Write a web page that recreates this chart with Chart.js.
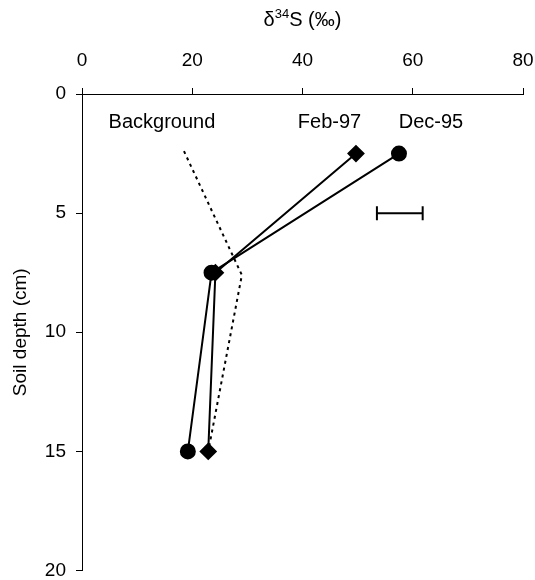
<!DOCTYPE html>
<html>
<head>
<meta charset="utf-8">
<script src="https://cdn.jsdelivr.net/npm/chart.js@4/dist/chart.umd.min.js"></script>
<style>
  html, body { margin: 0; padding: 0; background: #fff; }
  #wrap { width: 535px; height: 580px; position: relative; }
</style>
</head>
<body>
<div id="wrap"><canvas id="chart"></canvas></div>
<script>
// depth profile of d34S
const depths = [2.5, 7.5, 15];
const dec95 = [57.5, 23.5, 19.2];
const feb97 = [49.7, 24.2, 22.9];

const bgDepths = [2.4, 7.6, 15];
const bgValues = [18.5, 29, 22.9];

// analytical error bar drawn at 5 cm
const errDepth = 5;
const errLow = 53.5;
const errHigh = 61.8;

// series labels placed inside the plot
const labelText = ['Background', 'Feb-97', 'Dec-95'];
const labelX = [14.5, 44.9, 63.3];
const labelY = [1.2, 1.2, 1.2];

const xTicks = [0, 20, 40, 60, 80];
const yTicks = [0, 5, 10, 15, 20];

const FONT = "'Liberation Sans', Arial, sans-serif";
Chart.defaults.font.family = FONT;
Chart.defaults.font.size = 19;
Chart.defaults.color = '#000';

const pts = (xs, ys) => xs.map((x, i) => ({ x, y: ys[i] }));

// series labels + the superscripted axis title
const textPlugin = {
  id: 'texts',
  afterDraw(chart) {
    const { ctx, scales: { x, y }, chartArea } = chart;
    ctx.save();
    ctx.fillStyle = '#000';
    ctx.font = '20px ' + FONT;
    ctx.textAlign = 'center';
    ctx.textBaseline = 'middle';
    labelText.forEach((t, i) => {
      ctx.fillText(t, x.getPixelForValue(labelX[i]), y.getPixelForValue(labelY[i]));
    });

    // δ34S (‰) with superscript
    const big = '20px ' + FONT, small = '13px ' + FONT;
    ctx.textAlign = 'left';
    ctx.textBaseline = 'alphabetic';
    ctx.font = big;
    const w1 = ctx.measureText('\u03b4').width;
    const w3 = ctx.measureText('S (\u2030)').width;
    ctx.font = small;
    const w2 = ctx.measureText('34').width;
    let cx = (chartArea.left + chartArea.right) / 2 - (w1 + w2 + w3) / 2;
    const base = 26;
    ctx.font = big;
    ctx.fillText('\u03b4', cx, base); cx += w1;
    ctx.font = small;
    ctx.fillText('34', cx, base - 8); cx += w2;
    ctx.font = big;
    ctx.fillText('S (\u2030)', cx, base);
    ctx.restore();
  }
};

new Chart(document.getElementById('chart'), {
  type: 'scatter',
  data: {
    datasets: [
      {
        label: 'Dec-95',
        data: pts(dec95, depths),
        showLine: true,
        borderColor: '#000',
        backgroundColor: '#000',
        borderWidth: 2,
        pointStyle: 'circle',
        pointRadius: 7,
      },
      {
        label: 'Feb-97',
        data: pts(feb97, depths),
        showLine: true,
        borderColor: '#000',
        backgroundColor: '#000',
        borderWidth: 2,
        pointStyle: 'rectRot',
        pointRadius: 7.5,
      },
      {
        label: 'Background',
        data: pts(bgValues, bgDepths),
        showLine: true,
        borderColor: '#000',
        borderWidth: 2,
        borderDash: [3, 4],
        pointRadius: 0,
      },
      {
        label: 'error',
        data: pts([errLow, errHigh], [errDepth, errDepth]),
        showLine: true,
        borderColor: '#000',
        borderWidth: 2,
        pointStyle: 'line',
        rotation: 90,
        pointRadius: 7,
        pointBorderWidth: 2,
      },
    ],
  },
  options: {
    responsive: true,
    maintainAspectRatio: false,
    animation: false,
    layout: { padding: { top: 0, left: 0, right: 12, bottom: 3 } },
    scales: {
      x: {
        position: 'top',
        min: 0, max: 80,
        afterBuildTicks: (s) => { s.ticks = xTicks.map((v) => ({ value: v })); },
        afterFit: (s) => { s.height = 94; s.paddingLeft = 0; s.paddingRight = 0; },
        ticks: { padding: 16, color: '#000', font: { size: 19 } },
        grid: { drawOnChartArea: false, drawTicks: true, tickLength: 6, color: '#000' },
        border: { display: true, color: '#000', width: 1 },
      },
      y: {
        reverse: true,
        min: 0, max: 20,
        afterBuildTicks: (s) => { s.ticks = yTicks.map((v) => ({ value: v })); },
        afterFit: (s) => { s.width = 82; s.paddingTop = 0; s.paddingBottom = 0; },
        title: { display: true, text: 'Soil depth (cm)', font: { size: 19 }, padding: { top: 9, bottom: 0 } },
        ticks: { padding: 10, color: '#000', font: { size: 19 } },
        grid: { drawOnChartArea: false, drawTicks: true, tickLength: 6, color: '#000' },
        border: { display: true, color: '#000', width: 1 },
      },
    },
    plugins: {
      legend: { display: false },
      tooltip: { enabled: false },
    },
  },
  plugins: [textPlugin],
});
</script>
</body>
</html>
